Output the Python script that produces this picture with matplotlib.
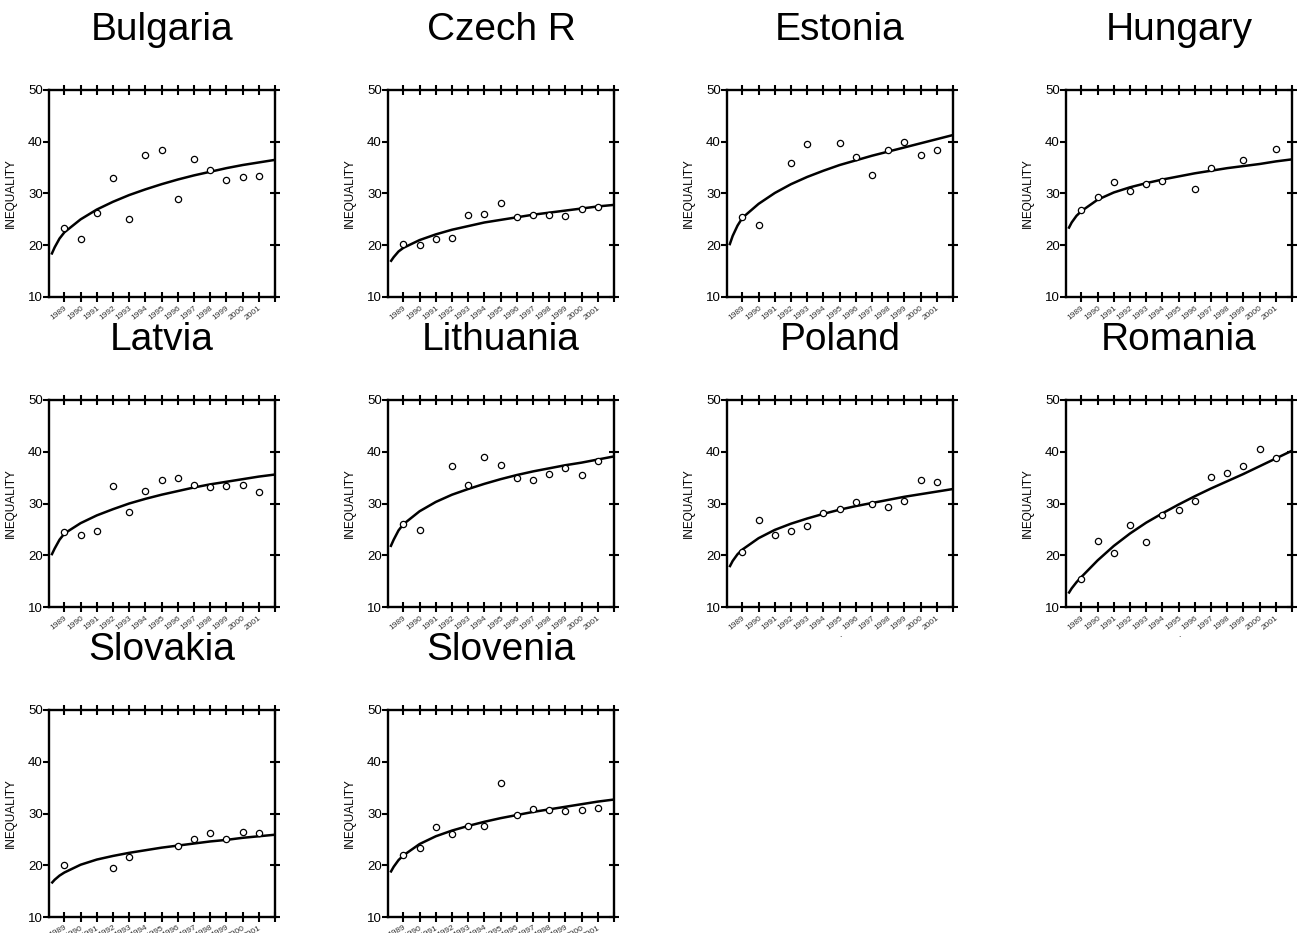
import numpy as np
import matplotlib.pyplot as plt

plt.rcParams['font.family'] = ['Liberation Sans', 'DejaVu Sans']

nan = np.nan

# survey years (one point per year) and x positions of the fitted curve
years = list(range(1989, 2002))
fit_x = [1988.2, 1988.4, 1988.7] + list(range(1989, 2003))

countries = ['Bulgaria', 'Czech R', 'Estonia', 'Hungary', 'Latvia',
             'Lithuania', 'Poland', 'Romania', 'Slovakia', 'Slovenia']

# observed inequality, 1989..2001
bulgaria = [23.4, 21.2, 26.2, 33.0, 25.1, 37.4, 38.4, 29.0, 36.6, 34.5, 32.6, 33.2, 33.3]
czech = [20.3, 20.1, 21.2, 21.4, 25.8, 26.0, 28.2, 25.4, 25.9, 25.9, 25.7, 27.0, 27.3]
estonia = [25.4, 24.0, nan, 35.8, 39.5, nan, 39.7, 37.0, 33.5, 38.4, 40.0, 37.5, 38.5]
hungary = [26.8, 29.4, 32.3, 30.5, 31.9, 32.5, nan, 30.8, 35.0, nan, 36.4, nan, 38.6]
latvia = [24.5, 24.0, 24.7, 33.3, 28.3, 32.5, 34.5, 34.9, 33.5, 33.2, 33.3, 33.6, 32.2]
lithuania = [26.1, 24.8, nan, 37.2, 33.6, 39.0, 37.4, 35.0, 34.5, 35.7, 36.8, 35.5, 38.2]
poland = [20.7, 26.8, 23.9, 24.7, 25.6, 28.1, 29.0, 30.2, 30.0, 29.4, 30.5, 34.5, 34.2]
romania = [15.5, 22.7, 20.5, 25.9, 22.6, 27.7, 28.7, 30.5, 35.2, 35.9, 37.2, 40.6, 38.8]
slovakia = [20.1, nan, nan, 19.5, 21.5, nan, nan, 23.7, 25.0, 26.3, 25.0, 26.5, 26.3]
slovenia = [21.9, 23.3, 27.3, 26.0, 27.6, 27.5, 35.8, 29.8, 30.8, 30.6, 30.5, 30.6, 31.0]

# fitted trend, read at fit_x
bulgaria_fit = [18.2, 19.6, 21.3, 22.5, 25.0, 26.9, 28.4, 29.7, 30.8, 31.8, 32.7, 33.5, 34.2, 34.9, 35.5, 36.0, 36.5]
czech_fit = [16.8, 17.7, 18.8, 19.5, 21.0, 22.1, 23.0, 23.7, 24.4, 24.9, 25.4, 25.9, 26.3, 26.7, 27.1, 27.5, 27.8]
estonia_fit = [20.0, 21.8, 23.8, 25.3, 28.0, 30.1, 31.8, 33.2, 34.4, 35.5, 36.4, 37.3, 38.1, 38.9, 39.7, 40.5, 41.3]
hungary_fit = [23.2, 24.4, 25.7, 26.6, 28.8, 30.2, 31.2, 32.0, 32.7, 33.3, 33.9, 34.4, 34.9, 35.3, 35.7, 36.2, 36.6]
latvia_fit = [20.0, 21.3, 23.0, 24.2, 26.2, 27.7, 28.9, 30.0, 30.9, 31.7, 32.4, 33.1, 33.7, 34.2, 34.7, 35.2, 35.6]
lithuania_fit = [21.6, 23.0, 24.8, 26.0, 28.5, 30.3, 31.7, 32.8, 33.8, 34.7, 35.5, 36.2, 36.8, 37.4, 37.9, 38.5, 39.1]
poland_fit = [17.7, 18.9, 20.2, 21.1, 23.3, 24.9, 26.1, 27.1, 28.0, 28.8, 29.5, 30.1, 30.7, 31.3, 31.8, 32.3, 32.8]
romania_fit = [12.6, 13.6, 14.8, 15.8, 19.0, 21.8, 24.2, 26.3, 28.1, 29.8, 31.4, 32.9, 34.3, 35.7, 37.2, 38.7, 40.2]
slovakia_fit = [16.5, 17.2, 18.0, 18.6, 20.1, 21.1, 21.8, 22.4, 22.9, 23.4, 23.8, 24.2, 24.6, 24.9, 25.3, 25.6, 25.9]
slovenia_fit = [18.6, 19.7, 21.0, 21.9, 24.1, 25.6, 26.7, 27.6, 28.4, 29.1, 29.7, 30.3, 30.8, 31.3, 31.8, 32.3, 32.7]

observed = [bulgaria, czech, estonia, hungary, latvia,
            lithuania, poland, romania, slovakia, slovenia]
fitted = [bulgaria_fit, czech_fit, estonia_fit, hungary_fit, latvia_fit,
          lithuania_fit, poland_fit, romania_fit, slovakia_fit, slovenia_fit]

W, H = 1301, 933
fig = plt.figure(figsize=(W / 100, H / 100), dpi=100)

for k, name in enumerate(countries):
    row, col = divmod(k, 4)
    left = 49 + 339 * col
    top = 90 + 310 * row
    ax = fig.add_axes([left / W, 1 - (top + 207) / H, 226 / W, 207 / H])

    ax.plot(fit_x, fitted[k], color='black', lw=1.8, solid_capstyle='butt')
    ax.plot(years, observed[k], 'o', ms=4.5, mfc='white', mec='black', mew=0.9)

    ax.set_xlim(1988.05, 2002)
    ax.set_ylim(10, 50)
    ax.set_yticks([10, 20, 30, 40, 50])
    ax.set_xticks(range(1989, 2003))
    ax.set_xticklabels([str(y) for y in years] + [''],
                       rotation=38 if row < 2 else 28, ha='right',
                       rotation_mode='anchor', fontsize=6, color='#333333')
    for s in ax.spines.values():
        s.set_linewidth(1.7)
    ax.tick_params(axis='x', direction='inout', top=True, bottom=True,
                   length=6.5, width=1.5, pad=2)
    ax.tick_params(axis='y', direction='out', length=4, width=1.5,
                   labelsize=9.5, pad=0.5)

    ax2 = ax.twinx()
    ax2.set_ylim(10, 50)
    ax2.set_yticks([10, 20, 30, 40, 50])
    ax2.tick_params(axis='y', direction='inout', length=6.5, width=1.5,
                    labelright=False)
    for s in ax2.spines.values():
        s.set_visible(False)

    ax.set_ylabel('INEQUALITY', fontsize=8.5)
    ax.yaxis.set_label_coords(-0.14, 0.5)
    ax.text(0.5, 1.29, name, transform=ax.transAxes, ha='center',
            va='center', fontsize=28)
    if name in ('Poland', 'Romania'):
        # stray mark below these two panels in the original
        ax.text(0.5, -0.14, '.', transform=ax.transAxes, ha='center',
                va='center', fontsize=6)

fig.savefig('out.png', dpi=100)
